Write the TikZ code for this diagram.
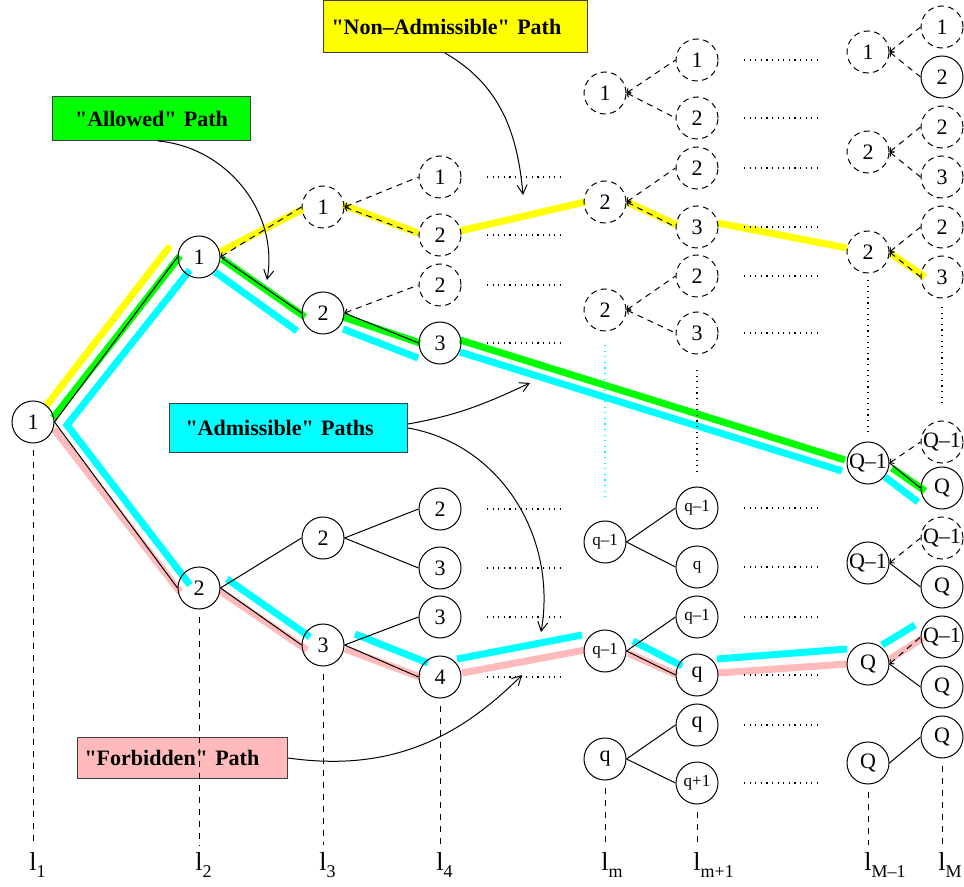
\documentclass[tikz,border=0pt]{standalone}
\usepackage{fontspec}
\setmainfont{Liberation Serif}
\usetikzlibrary{arrows.meta, positioning, calc}

\definecolor{hlyellow}{RGB}{255,255,0}
\definecolor{hlgreen}{RGB}{0,255,0}
\definecolor{hlcyan}{RGB}{0,255,255}
\definecolor{hlpink}{RGB}{255,187,187}

\newcommand{\quoted}[1]{\textquotedbl #1\textquotedbl}

\tikzset{
  state/.style={circle, draw, line width=0.5pt, minimum size=21pt, inner sep=0pt, font=\fontsize{11}{12}\selectfont},
  ghost/.style={state, dash pattern=on 3pt off 2.2pt},
  smallq/.style={font=\fontsize{8.5}{10}\selectfont},
  link/.style={line width=0.5pt},
  dlink/.style={link, dash pattern=on 3pt off 2.5pt, {Straight Barb[length=1.5pt,width=3pt]}-},
  hl/.style={line width=3.5pt},
  dotrow/.style={line width=0.6pt, dash pattern=on 0.6pt off 2.2pt},
  axisline/.style={line width=0.5pt, dash pattern=on 3pt off 3pt},
  tag/.style={draw=black!75, line width=0.5pt, font=\bfseries\fontsize{11}{13}\selectfont, anchor=north west, inner ysep=0pt},
  pointer/.style={line width=0.5pt, -{Straight Barb[length=4.5pt,width=5pt]}},
  lvl/.style={anchor=base west, inner sep=0pt, font=\fontsize{13}{14}\selectfont},
}

\begin{document}
\begin{tikzpicture}[x=0.5pt, y=-0.5pt]
\useasboundingbox (0,0) rectangle (964,887);

% path labels
\node[tag, fill=hlyellow, text width=124pt, inner xsep=4pt, minimum height=26pt, align=left] (nonadm) at (323,0) {\quoted{Non\textendash Admissible} Path};
\node[tag, fill=hlgreen, text width=99pt, inner xsep=0pt, minimum height=22pt, align=center] (allowed) at (52,96) {\quoted{Allowed} Path};
\node[tag, fill=hlcyan, text width=103pt, inner xsep=8pt, minimum height=24.5pt, align=left] (admis) at (169,403) {\quoted{Admissible} Paths};
\node[tag, fill=hlpink, text width=98pt, inner xsep=3.5pt, minimum height=20.5pt, align=left] (forbid) at (77,737) {\quoted{Forbidden} Path};

% highlighted paths
\draw[hl, hlyellow] (46,406) -- (170,246) (220,252) -- (303,209) (343,205) -- (418,233)
  (460,231) -- (585,202) (627,202) -- (677,225) (718,223) -- (847,248) (890,253) -- (925,277);
\draw[hl, hlgreen] (53,418) -- (180,256) (222,259) -- (305,317) (343,317) -- (420,343)
  (460,340) -- (845,460) (892,468) -- (925,491);
\draw[hl, hlcyan, line join=miter] (190,270) -- (67,425) -- (190,585);
\draw[hl, hlcyan] (215,272) -- (297,331) (343,329) -- (418,358) (460,352) -- (842,471)
  (885,477) -- (918,502);
\draw[hl, hlcyan] (227,579) -- (310,637) (355,634) -- (428,663) (457,659) -- (582,635)
  (633,641) -- (682,666) (717,659) -- (847,649) (882,645) -- (915,625);
\draw[hl, hlpink] (54,429) -- (180,592) (220,591) -- (307,650) (345,649) -- (420,677)
  (462,673) -- (585,650) (628,653) -- (677,675) (718,673) -- (847,664) (890,659) -- (923,638);

% states
\foreach \n/\x/\y/\t in {a1/33/422/1, b1/199/257/1, b2/199/588/2, c2/323/313/2, c3/323/538/2,
  c4/323/645/3, d4/440/343/3, d5/440/509/2, d6/440/568/3, d7/440/617/3, d8/440/677/4,
  m6/605/759/q, n10/697/675/q, n11/697/725/q, p4/868/463/Q\textendash 1, p5/868/563/Q\textendash 1,
  p6/868/664/Q, p7/868/763/Q, r2/942/77/2, r8/942/488/Q, r10/942/587/Q, r11/942/637/Q\textendash 1,
  r12/942/687/Q, r13/942/737/Q}
  \node[state] (\n) at (\x,\y) {\t};
\foreach \n/\x/\y/\t in {m4/605/542/q\textendash 1, m5/605/651/q\textendash 1, n7/697/508/q\textendash 1,
  n8/697/567/q, n9/697/617/q\textendash 1, n12/697/783/q+1}
  \node[state, smallq] (\n) at (\x,\y) {\t};
\foreach \n/\x/\y/\t in {c1/323/207/1, d1/440/177/1, d2/440/235/2, d3/440/285/2, m1/605/93/1,
  m2/605/202/2, m3/605/310/2, n1/697/60/1, n2/697/118/2, n3/697/168/2, n4/697/227/3, n5/697/276/2,
  n6/697/333/3, p1/868/52/1, p2/868/152/2, p3/868/252/2, r1/942/27/1, r3/942/127/2, r4/942/177/3,
  r5/942/227/2, r6/942/277/3, r7/942/442/Q\textendash 1, r9/942/538/Q\textendash 1}
  \node[ghost] (\n) at (\x,\y) {\t};

% transitions
\foreach \u/\v in {a1/b1, a1/b2, b1/c2, c2/d4, b2/c3, b2/c4, c3/d5, c3/d6, c4/d7, c4/d8,
  m4/n7, m4/n8, m5/n9, m5/n10, m6/n11, m6/n12, p4/r8, p5/r10, p6/r12, p7/r13}
  \draw[link] (\u.east) -- (\v.west);
\foreach \u/\v in {b1/c1, c1/d1, c1/d2, c2/d3, m1/n1, m1/n2, m2/n3, m2/n4, m3/n5, m3/n6,
  p1/r1, p1/r2, p2/r3, p2/r4, p3/r5, p3/r6, p4/r7, p5/r9, p6/r11}
  \draw[dlink] (\u.east) -- (\v.west);

% skipped stages
\foreach \y in {177,235,285,343,509,568,617,677}
  \draw[dotrow] (487,\y) -- (560,\y);
\foreach \y in {60,118,168,227,276,333,508,567,617,675,725,783}
  \draw[dotrow] (744,\y) -- (818,\y);
\draw[dotrow, hlcyan] (605,345) -- (605,500);
\draw[dotrow] (697,370) -- (697,475);
\draw[dotrow] (868,280) -- (868,433);
\draw[dotrow] (942,307) -- (942,403);

% levels
\coordinate (base) at (0,845);
\foreach \n in {a1,b2,c4,d8,m6,n12,p7,r13}
  \draw[axisline] (\n.south) ++(0,7) -- (\n.south |- base);
\foreach \x/\s [count=\i] in {33/1, 199/2, 323/3, 440/4, 605/m, 697/m+1, 868/M\textendash 1, 942/M}
  \node[lvl] (lab\i) at (\x-4,870) {l\raisebox{-3.5pt}{\fontsize{9}{9}\selectfont\s}};

% pointers
\coordinate (naTip) at (523,195);
\coordinate (alTip) at (267,280);
\coordinate (adTipA) at (530,383);
\coordinate (adTipB) at (541,632);
\coordinate (fbTip) at (522,675);
\draw[pointer] ($(nonadm.south west)+(122,0)$) to[out=-30,in=95] (naTip);
\draw[pointer] ($(allowed.south west)+(106,0)$) to[out=-5,in=80] (alTip);
\draw[pointer] ([yshift=2pt]admis.east) to[out=10,in=205] (adTipA);
\draw[pointer] (admis.east) to[out=-10,in=80] (adTipB);
\draw[pointer] (forbid.east) to[out=-8,in=225] (fbTip);
\end{tikzpicture}
\end{document}
